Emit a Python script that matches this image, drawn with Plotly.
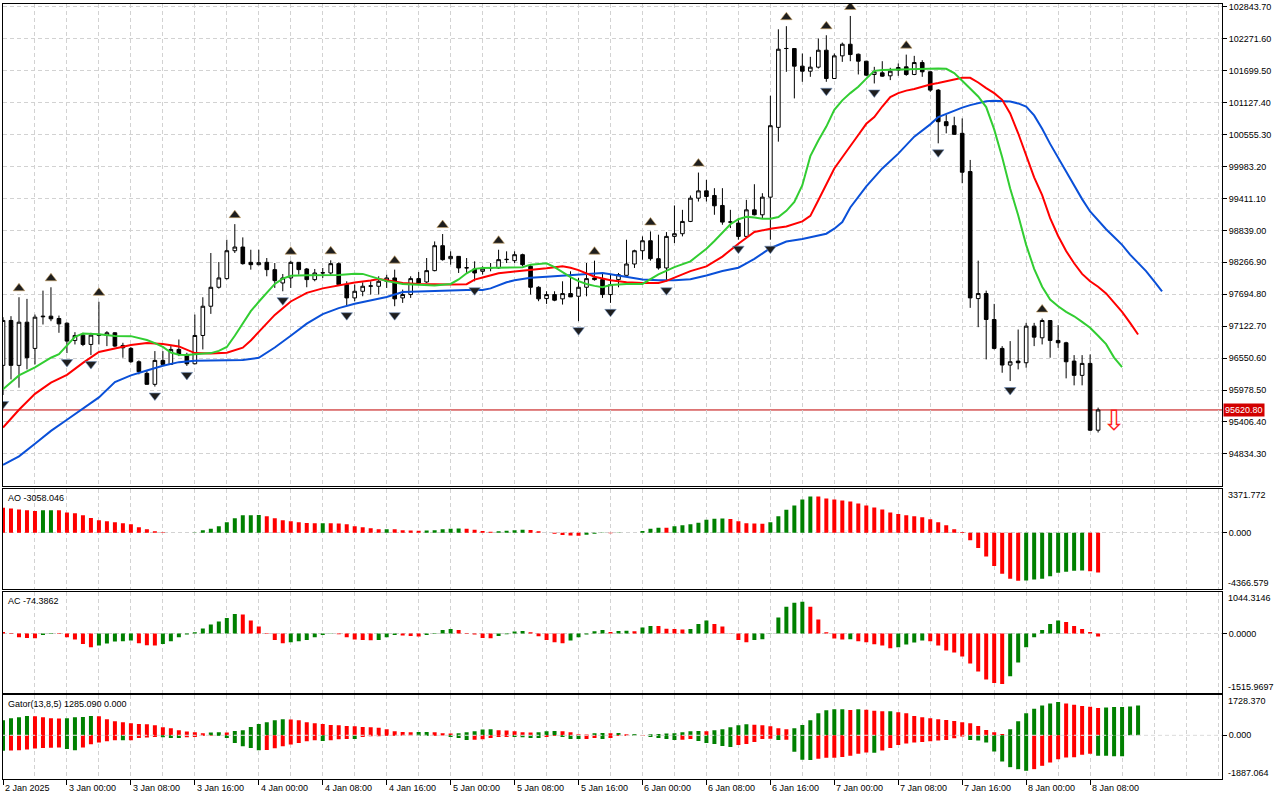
import plotly.graph_objects as go

# ---------------- data ----------------
price_ticks = [102843.70, 102271.60, 101699.50, 101127.40, 100555.30, 99983.20,
               99411.10, 98839.00, 98266.90, 97694.80, 97122.70, 96550.60,
               95978.50, 95406.40, 94834.30]
main_y_range = [94262.2, 102897.3]

time_label_idx = [0, 8, 16, 24, 32, 40, 48, 56, 64, 72, 80, 88, 96, 104, 112, 120, 128, 136]
time_labels = ["2 Jan 2025", "3 Jan 00:00", "3 Jan 08:00", "3 Jan 16:00", "4 Jan 00:00",
               "4 Jan 08:00", "4 Jan 16:00", "5 Jan 00:00", "5 Jan 08:00", "5 Jan 16:00",
               "6 Jan 00:00", "6 Jan 08:00", "6 Jan 16:00", "7 Jan 00:00", "7 Jan 08:00",
               "7 Jan 16:00", "8 Jan 00:00", "8 Jan 08:00"]

opens = [96420, 97225, 96420, 97194, 96724, 97290, 97302, 97260, 97176, 96867,
         96962, 96795, 96956, 96956, 97004, 96777, 96724, 96485, 96277, 96080,
         96509, 96437, 96706, 96616, 96449, 96956, 97480, 97820, 97975, 98475,
         98541, 98267, 98225, 98267, 98136, 97897, 97987, 98267, 98148, 97957,
         98076, 98076, 98243, 97868, 97629, 97748, 97838, 97838, 97927, 97987,
         97629, 97689, 97975, 97915, 98118, 98565, 98332, 98374, 98166, 98148,
         98106, 98166, 98166, 98315, 98297, 98404, 98195, 97820, 97617, 97689,
         97612, 97707, 97659, 97820, 97987, 97957, 97689, 97957, 98034, 98237,
         98475, 98654, 98332, 98166, 98732, 98780, 99000, 99417, 99548, 99465,
         99286, 98988, 98970, 98732, 99208, 99119, 99435, 100686, 102099, 102099,
         101783, 101693, 101765, 102069, 101562, 101968, 102176, 101997, 101872, 101634,
         101664, 101610, 101711, 101771, 101634, 101848, 101682, 101354, 100788, 100716,
         100579, 99894, 97617, 97707, 97242, 96724, 96426, 96497, 96467, 97123,
         96914, 97224, 96867, 96825, 96497, 96241, 96455, 95258]
highs = [97283, 97302, 97641, 97612, 97331, 97760, 97820, 97313, 97190, 97015,
         97004, 97004, 97560, 97033, 97015, 96825, 96747, 96509, 96318, 96676,
         96676, 96765, 96884, 96646, 97331, 97641, 98434, 98273, 98672, 98952,
         98714, 98493, 98493, 98344, 98255, 98058, 98297, 98270, 98166, 98148,
         98166, 98303, 98267, 97927, 97868, 97909, 97927, 98017, 98046, 98136,
         97778, 98017, 98094, 98344, 98642, 98774, 98464, 98380, 98344, 98285,
         98195, 98255, 98493, 98464, 98464, 98422, 98225, 97838, 97748, 97748,
         97927, 98106, 97987, 98255, 98297, 98076, 98046, 98076, 98672, 98493,
         98732, 98821, 98762, 98809, 99286, 99208, 99465, 99876, 99745, 99596,
         99596, 99208, 99059, 99387, 99667, 99506, 101253, 102444, 102500, 102100,
         102009, 101950, 102278, 102337, 102009, 102206, 102683, 102009, 101872, 101771,
         101872, 101753, 101831, 101990, 101968, 101890, 101693, 101372, 100907, 100877,
         100847, 100102, 98297, 97760, 97522, 96765, 96855, 97063, 97182, 97182,
         97260, 97228, 97141, 96843, 96604, 96604, 96616, 95663]
lows = [95889, 96169, 96020, 96348, 96437, 97153, 97212, 97004, 96640, 96795,
        96765, 96604, 96795, 96765, 96747, 96557, 96467, 96259, 96075, 96040,
        96426, 96437, 96586, 96410, 96440, 96706, 97343, 97796, 97957, 98434,
        98225, 98136, 98213, 98017, 97808, 97748, 97808, 98046, 97820, 97927,
        97987, 98046, 97868, 97480, 97570, 97659, 97689, 97689, 97808, 97480,
        97540, 97629, 97880, 97897, 98106, 98297, 98225, 98076, 98076, 97927,
        98046, 98106, 98148, 98255, 98255, 98195, 97689, 97570, 97522, 97570,
        97510, 97647, 97212, 97659, 97939, 97629, 97540, 97820, 98034, 98166,
        98315, 98297, 98136, 97927, 98612, 98732, 98988, 99357, 99357, 99119,
        98940, 98881, 98672, 98702, 99107, 99059, 98672, 100430, 101682, 101205,
        101503, 101592, 101741, 101503, 101555, 101860, 101872, 101634, 101610, 101473,
        101592, 101533, 101610, 101610, 101622, 101592, 101324, 100400, 100579, 100550,
        99685, 97451, 97105, 96527, 96706, 96288, 96139, 96348, 96378, 96765,
        96795, 96557, 96735, 96187, 96062, 96062, 95246, 95216]
closes = [97225, 96420, 97194, 96557, 97284, 97300, 97254, 97164, 96855, 96956,
          96795, 96962, 96974, 97004, 96765, 96735, 96485, 96306, 96080, 96509,
          96437, 96706, 96616, 96449, 96956, 97480, 97820, 97987, 98475, 98541,
          98243, 98225, 98261, 98136, 97939, 97987, 98267, 98136, 97957, 98076,
          98080, 98243, 97868, 97629, 97748, 97838, 97845, 97927, 97987, 97612,
          97689, 97975, 97897, 98118, 98565, 98315, 98374, 98166, 98170, 98076,
          98148, 98170, 98315, 98320, 98404, 98225, 97820, 97612, 97689, 97588,
          97707, 97647, 97820, 97975, 97957, 97689, 97868, 98046, 98237, 98475,
          98654, 98332, 98166, 98732, 98780, 99000, 99417, 99548, 99447, 99280,
          98988, 98990, 98732, 99208, 99119, 99435, 100716, 102087, 102100, 101783,
          101693, 101765, 102069, 101562, 101968, 102176, 101991, 101872, 101622, 101682,
          101604, 101693, 101759, 101634, 101848, 101682, 101354, 100788, 100716, 100561,
          99882, 97629, 97707, 97242, 96724, 96426, 96485, 96467, 97123, 96926,
          97224, 96867, 96825, 96485, 96241, 96455, 95258, 95620.8]

# Alligator (shifted lines as drawn)
jaw_idx = [0, 2, 4, 6, 8, 10, 12, 14, 16, 18, 20, 22, 24, 26, 28, 30, 32, 34, 36, 38,
           40, 42, 44, 46, 48, 50, 52, 54, 56, 58, 60, 61, 62, 63, 64, 66, 68, 70, 72, 74,
           75, 76, 78, 80, 82, 84, 86, 88, 90, 92, 93, 94, 96, 98, 100, 102, 103, 104, 105, 106,
           108, 110, 112, 114, 116, 117, 118, 119, 120, 121, 122, 123, 124, 125, 126, 127, 128, 129, 130, 131,
           132, 133, 134, 135, 136, 137, 138, 139, 140, 141, 142, 143, 144, 145]
jaw_vals = [94638, 94790, 95016, 95246, 95445, 95646, 95846, 96121, 96241, 96327,
            96412, 96478, 96505, 96509, 96509, 96515, 96555, 96740, 96950, 97168,
            97340, 97446, 97524, 97582, 97645, 97735, 97740, 97750, 97760, 97772,
            97772, 97800, 97850, 97910, 97945, 97990, 98008, 98028, 98050, 98070,
            98076, 98055, 98008, 97960, 97945, 97945, 97965, 98030, 98110, 98170,
            98250, 98330, 98520, 98640, 98685, 98740, 98780, 98870, 98990, 99250,
            99630, 99950, 100215, 100520, 100740, 100870, 100930, 100990, 101040, 101085,
            101125, 101155, 101163, 101163, 101150, 101115, 101060, 100900, 100660, 100390,
            100140, 99890, 99640, 99400, 99179, 99010, 98860, 98720, 98580, 98404,
            98260, 98110, 97930, 97748]

teeth_idx = [0, 2, 4, 6, 8, 10, 12, 14, 16, 18, 20, 22, 24, 26, 28, 30, 31, 32, 34, 36,
             38, 40, 42, 44, 46, 47, 48, 50, 52, 54, 56, 58, 59, 60, 62, 64, 66, 68, 70, 71,
             72, 74, 76, 78, 80, 82, 83, 84, 86, 88, 90, 92, 94, 96, 98, 100, 101, 102, 103, 104,
             105, 106, 107, 108, 109, 110, 111, 112, 113, 114, 115, 116, 117, 118, 119, 120, 121, 122, 123, 124,
             125, 126, 127, 128, 129, 130, 131, 132, 133, 134, 135, 136, 137, 138, 139, 140, 141, 142]
teeth_vals = [95305, 95625, 95910, 96110, 96250, 96464, 96660, 96727, 96785, 96820,
              96805, 96760, 96640, 96634, 96646, 96738, 96865, 97020, 97325, 97565,
              97720, 97800, 97855, 97905, 97940, 97969, 97945, 97895, 97880, 97868,
              97868, 97875, 97957, 97994, 98070, 98103, 98125, 98160, 98195, 98170,
              98128, 98010, 97945, 97910, 97897, 97897, 97935, 97990, 98110, 98195,
              98370, 98600, 98810, 98869, 98910, 99000, 99100, 99380, 99680, 99950,
              100150, 100360, 100550, 100750, 100870, 101060, 101230, 101300, 101345, 101375,
              101415, 101455, 101480, 101510, 101550, 101574, 101574, 101490, 101390, 101300,
              101180, 100937, 100580, 100180, 99790, 99470, 99059, 98740, 98470, 98250,
              98060, 97927, 97830, 97710, 97550, 97380, 97182, 96974]

lips_idx = [0, 2, 4, 6, 7, 8, 9, 10, 12, 14, 16, 18, 19, 20, 21, 22, 23, 24, 26, 27,
            28, 29, 30, 31, 32, 33, 34, 35, 36, 38, 40, 42, 44, 45, 46, 48, 50, 52, 54, 56,
            57, 58, 59, 60, 62, 64, 65, 66, 68, 69, 70, 71, 72, 73, 74, 75, 76, 78, 80, 81,
            82, 84, 86, 87, 88, 89, 90, 91, 92, 93, 94, 95, 96, 97, 98, 99, 100, 101, 102, 103,
            104, 105, 106, 107, 108, 109, 110, 112, 114, 116, 117, 118, 119, 120, 121, 122, 123, 124, 125, 126,
            127, 128, 129, 130, 131, 132, 133, 134, 135, 136, 137, 138, 139, 140]
lips_vals = [95990, 96240, 96385, 96557, 96620, 96780, 96930, 96990, 96976, 96948,
             96944, 96875, 96820, 96750, 96650, 96610, 96604, 96618, 96640, 96680,
             96750, 96950, 97170, 97391, 97560, 97730, 97880, 97975, 98025, 98034,
             98034, 98040, 98062, 98060, 98015, 97930, 97880, 97866, 97850, 97880,
             97960, 98070, 98150, 98166, 98166, 98170, 98178, 98225, 98250, 98180,
             98090, 98000, 97930, 97880, 97845, 97820, 97860, 97880, 97880, 97960,
             98050, 98180, 98285, 98400, 98510, 98650, 98800, 98950, 99040, 99085,
             99070, 99050, 99047, 99080, 99190, 99350, 99650, 100170, 100450, 100700,
             101000, 101170, 101300, 101413, 101560, 101699, 101715, 101725, 101735, 101741,
             101741, 101735, 101660, 101520, 101380, 101240, 101050, 100650, 100150, 99590,
             99110, 98580, 98150, 97830, 97600, 97480, 97380, 97300, 97200, 97093,
             96950, 96800, 96560, 96390]

fractal_up_idx = [2, 6, 12, 29, 36, 41, 49, 55, 62, 74, 81, 87, 98, 103, 106, 113, 130]
fractal_down_idx = [0, 8, 11, 19, 23, 35, 43, 49, 59, 72, 76, 83, 92, 96, 103, 109, 117, 126]

sell_signal_idx = [139]
sell_signal_price = [95385]

ao = [1915, 1864, 1787, 1711, 1660, 1711, 1723, 1711, 1557, 1481,
      1328, 1123, 945, 868, 791, 715, 638, 408, 255, 102,
      25, -10, -5, 0, 20, 179, 306, 485, 791, 1098,
      1328, 1340, 1353, 1251, 1098, 945, 868, 791, 740, 715,
      728, 715, 702, 638, 485, 408, 332, 255, 268, 255,
      179, 166, 153, 160, 179, 255, 306, 310, 300, 230,
      128, 77, 100, 153, 179, 230, 204, 100, 0, -77,
      -179, -220, -235, -153, -77, -30, -50, -25, -10, 0,
      128, 306, 383, 375, 485, 562, 638, 766, 996, 1072,
      1085, 1047, 868, 715, 702, 689, 791, 1251, 1762, 2093,
      2553, 2783, 2770, 2630, 2553, 2476, 2400, 2247, 2093, 1940,
      1787, 1557, 1430, 1328, 1251, 1174, 1021, 791, 562, 255,
      51, -587, -1174, -1838, -2553, -3166, -3549, -3702, -3676, -3600,
      -3549, -3344, -3089, -3013, -2936, -2910, -2961, -3058.046]
ao_range = [-4366.579, 3371.772]

ac = [40, -8, -93, -110, -118, -34, 17, -8, -93, -152,
      -262, -346, -304, -253, -203, -194, -177, -245, -296, -300,
      -262, -194, -93, -25, 34, 127, 228, 304, 397, 499,
      482, 330, 177, -8, -161, -245, -220, -194, -161, -93,
      -34, -5, -20, -93, -152, -161, -169, -161, -93, -34,
      -51, -59, -76, -34, 17, 93, 118, 93, 17, -25,
      -110, -118, -59, -17, 51, 68, 34, -68, -161, -220,
      -245, -177, -93, -25, 59, 93, 42, 68, 70, 59,
      152, 194, 190, 125, 118, 101, 118, 245, 330, 245,
      177, 8, -161, -220, -161, -144, 8, 406, 684, 786,
      811, 684, 355, 34, -127, -152, -144, -194, -220, -270,
      -304, -372, -346, -279, -228, -177, -194, -304, -431, -482,
      -583, -760, -963, -1166, -1259, -1284, -1082, -735, -346, -93,
      93, 245, 330, 296, 194, 118, 42, -74.3862]
ac_range = [-1515.9697, 1044.3146]

gator_up = [645, 731, 774, 831, 817, 774, 731, 724, 731, 774,
            788, 831, 824, 688, 602, 559, 516, 487, 473, 430,
            344, 301, 215, 158, 129, 86, 115, 129, 115, 186,
            215, 358, 487, 559, 645, 688, 681, 645, 559, 516,
            487, 444, 430, 401, 387, 358, 344, 330, 258, 172,
            143, 129, 136, 143, 129, 86, 72, 86, 129, 172,
            244, 258, 215, 201, 172, 129, 115, 129, 172, 186,
            172, 129, 43, 36, 86, 93, 86, 93, 43, 57,
            14, 43, 57, 72, 86, 129, 172, 186, 172, 215,
            258, 344, 430, 473, 458, 430, 387, 301, 258, 301,
            444, 645, 946, 1075, 1118, 1125, 1089, 1118, 1103, 1060,
            1032, 1039, 989, 946, 831, 774, 731, 688, 659, 616,
            559, 516, 401, 229, 129, 57, 258, 602, 946, 1146,
            1290, 1376, 1433, 1376, 1318, 1261, 1232, 1180, 1200, 1215,
            1225, 1240, 1285.09]
gator_down = [-673, -660, -645, -616, -573, -544, -540, -530, -590, -645,
              -530, -387, -315, -258, -215, -220, -210, -115, -100, -72,
              -86, -115, -120, -86, -72, -30, -25, -30, -115, -330,
              -473, -544, -645, -640, -559, -473, -401, -330, -258, -215,
              -245, -215, -172, -158, -165, -72, -43, -40, -30, -28,
              -25, -22, -30, -35, -30, -10, -72, -115, -200, -195,
              -172, -115, -72, -70, -75, -80, -115, -120, -72, -30,
              -72, -158, -165, -160, -115, -158, -115, -30, -28, -32,
              -28, -72, -115, -158, -200, -195, -158, -244, -330, -373,
              -458, -502, -416, -373, -287, -158, -155, -200, -195, -716,
              -1060, -1065, -1017, -975, -970, -940, -888, -802, -745, -750,
              -659, -545, -416, -358, -315, -287, -258, -229, -200, -129,
              -57, -200, -229, -315, -702, -1132, -1376, -1462, -1533, -1462,
              -1318, -1175, -1032, -960, -946, -845, -802, -880, -885, -900,
              -910]
gator_range = [-1887.064, 1728.370]

# ---------------- styling ----------------
W, H = 1280, 800
M_L, M_R, M_T, M_B = 2, 58, 2, 21
PLOT_H = H - M_T - M_B
X_RANGE = [0, 152.5]
GREEN = "#008000"
RED = "#ff0000"
GRID = "#d2d2d2"
GRID_DASH = "4px,3px"
FONT = "Liberation Sans"
FS = 9


def dom(top_px, bottom_px):
    base = H - M_B
    return [(base - bottom_px) / PLOT_H, (base - top_px) / PLOT_H]


def up_down_colors(vals, first, mag=False):
    cols = [first]
    for i in range(1, len(vals)):
        a, b = vals[i], vals[i - 1]
        if mag:
            a, b = abs(a), abs(b)
        cols.append(GREEN if a > b else RED)
    return cols


n = len(opens)
bars = list(range(n))
price_per_px = (main_y_range[1] - main_y_range[0]) / (485 - 2)
frac_gap = 9 * price_per_px

fig = go.Figure()

fig.add_trace(go.Candlestick(
    x=bars, open=opens, high=highs, low=lows, close=closes,
    increasing=dict(line=dict(color="black", width=1), fillcolor="white"),
    decreasing=dict(line=dict(color="black", width=1), fillcolor="black"),
    whiskerwidth=0, xaxis="x", yaxis="y", hoverinfo="skip", showlegend=False))

for xs, ys, col in [(jaw_idx, jaw_vals, "#0a50d8"),
                    (teeth_idx, teeth_vals, "#ff0000"),
                    (lips_idx, lips_vals, "#32cd32")]:
    fig.add_trace(go.Scatter(x=xs, y=ys, mode="lines", line=dict(color=col, width=2),
                             xaxis="x", yaxis="y", hoverinfo="skip", showlegend=False))

fig.add_trace(go.Scatter(
    x=fractal_up_idx, y=[highs[i] + frac_gap for i in fractal_up_idx], mode="markers",
    marker=dict(symbol="triangle-up", size=10, color="#1e1e1e",
                line=dict(color="#c8a060", width=0.6)),
    xaxis="x", yaxis="y", hoverinfo="skip", showlegend=False))
fig.add_trace(go.Scatter(
    x=fractal_down_idx, y=[lows[i] - frac_gap for i in fractal_down_idx], mode="markers",
    marker=dict(symbol="triangle-down", size=10, color="#1e1e1e",
                line=dict(color="#7090c0", width=0.6)),
    xaxis="x", yaxis="y", hoverinfo="skip", showlegend=False))

fig.add_trace(go.Scatter(
    x=sell_signal_idx, y=sell_signal_price, mode="text", text=["\u21e9"],
    textfont=dict(family="DejaVu Sans", size=28, color="#ff2020"),
    xaxis="x", yaxis="y", hoverinfo="skip", showlegend=False))

fig.add_trace(go.Bar(x=bars, y=ao, marker=dict(color=up_down_colors(ao, RED), line=dict(width=0)),
                     width=0.5, xaxis="x2", yaxis="y2", hoverinfo="skip", showlegend=False))
fig.add_trace(go.Bar(x=bars, y=ac, marker=dict(color=up_down_colors(ac, RED), line=dict(width=0)),
                     width=0.5, xaxis="x3", yaxis="y3", hoverinfo="skip", showlegend=False))
fig.add_trace(go.Bar(x=list(range(len(gator_up))), y=gator_up,
                     marker=dict(color=up_down_colors(gator_up, GREEN), line=dict(width=0)),
                     width=0.5, xaxis="x4", yaxis="y4", hoverinfo="skip", showlegend=False))
fig.add_trace(go.Bar(x=list(range(len(gator_down))), y=gator_down,
                     marker=dict(color=up_down_colors(gator_down, GREEN, mag=True), line=dict(width=0)),
                     width=0.5, xaxis="x4", yaxis="y4", hoverinfo="skip", showlegend=False))

tick_font = dict(family=FONT, size=FS, color="black")


def xaxis_cfg(anchor, bottom=False):
    cfg = dict(anchor=anchor, domain=[0, 1], range=X_RANGE, tickmode="array",
               tickvals=time_label_idx, showticklabels=False,
               ticks="outside" if bottom else "", ticklen=5, tickcolor="black",
               showgrid=True, gridcolor=GRID, griddash=GRID_DASH, gridwidth=1,
               minor=dict(dtick=4, tick0=0, showgrid=True, gridcolor=GRID,
                          griddash=GRID_DASH, gridwidth=1, ticks=""),
               showline=True, mirror=True, linecolor="black", linewidth=1,
               zeroline=False, fixedrange=True)
    if anchor != "y":
        cfg["matches"] = "x"
    return cfg


def sub_y(domain, rng, zero_txt):
    return dict(domain=domain, range=rng, side="right", anchor="x",
                tickmode="array", tickvals=[0], ticktext=[zero_txt],
                ticks="outside", ticklen=4, tickcolor="black", tickfont=tick_font,
                showgrid=True, gridcolor=GRID, griddash=GRID_DASH,
                showline=True, mirror=True, linecolor="black", linewidth=1,
                zeroline=False, fixedrange=True)


xa = xaxis_cfg("y")
xa["rangeslider"] = dict(visible=False)

ya = dict(domain=dom(2, 485), range=main_y_range, side="right", anchor="x",
          tickmode="array", tickvals=price_ticks, ticktext=[f"{v:.2f}" for v in price_ticks],
          ticks="outside", ticklen=4, tickcolor="black", tickfont=tick_font,
          showgrid=True, gridcolor=GRID, griddash=GRID_DASH,
          showline=True, mirror=True, linecolor="black", linewidth=1,
          zeroline=False, fixedrange=True)

ya2 = sub_y(dom(488, 589), ao_range, "0.000")
ya2["anchor"] = "x2"
ya3 = sub_y(dom(592, 693), ac_range, "0.0000")
ya3["anchor"] = "x3"
ya4 = sub_y(dom(695, 779), gator_range, "0.000")
ya4["anchor"] = "x4"

annotations = []
# time labels
for k, t in zip(time_label_idx, time_labels):
    annotations.append(dict(x=k, xref="x4", y=-9 / PLOT_H, yref="paper", text=t,
                            showarrow=False, xanchor="left", yanchor="middle", xshift=0,
                            font=tick_font))
# pane titles
for yref, txt in [("y2 domain", f"AO {ao[-1]:.3f}"), ("y3 domain", f"AC {ac[-1]:.4f}"),
                  ("y4 domain", f"Gator(13,8,5) {gator_up[-1]:.3f} 0.000")]:
    annotations.append(dict(x=0, xref="paper", y=1, yref=yref, text=txt, showarrow=False,
                            xanchor="left", yanchor="top", xshift=3, yshift=-2, font=tick_font))
# sub-pane edge labels
for yref, top_txt, bot_txt in [("y2 domain", f"{ao_range[1]:.3f}", f"{ao_range[0]:.3f}"),
                               ("y3 domain", f"{ac_range[1]:.4f}", f"{ac_range[0]:.4f}"),
                               ("y4 domain", f"{gator_range[1]:.3f}", f"{gator_range[0]:.3f}")]:
    annotations.append(dict(x=1, xref="paper", y=1, yref=yref, text=top_txt, showarrow=False,
                            xanchor="left", yanchor="top", xshift=4, yshift=1, font=tick_font))
    annotations.append(dict(x=1, xref="paper", y=0, yref=yref, text=bot_txt, showarrow=False,
                            xanchor="left", yanchor="bottom", xshift=4, yshift=-1, font=tick_font))
# current price box
annotations.append(dict(x=1, xref="paper", y=closes[-1], yref="y", text=f"{closes[-1]:.2f}",
                        showarrow=False, xanchor="left", yanchor="middle", xshift=1,
                        bgcolor="#d20000", borderpad=1,
                        font=dict(family=FONT, size=FS, color="white")))

shapes = [
    dict(type="line", xref="paper", x0=0, x1=1, yref="y", y0=closes[-1], y1=closes[-1],
         line=dict(color="#c00000", width=1), layer="below"),
    dict(type="line", xref="paper", x0=0, x1=1, yref="y4", y0=0, y1=0,
         line=dict(color="#e6e6e6", width=1, dash=GRID_DASH), layer="above"),
]

fig.update_layout(
    width=W, height=H, margin=dict(l=M_L, r=M_R, t=M_T, b=M_B, pad=0),
    paper_bgcolor="white", plot_bgcolor="white",
    barmode="overlay", boxgap=0.35,
    xaxis=xa, xaxis2=xaxis_cfg("y2"), xaxis3=xaxis_cfg("y3"), xaxis4=xaxis_cfg("y4", bottom=True),
    yaxis=ya, yaxis2=ya2, yaxis3=ya3, yaxis4=ya4,
    annotations=annotations, shapes=shapes, showlegend=False,
    font=dict(family=FONT, size=FS, color="black"),
)

fig.write_html("out.html", config={"staticPlot": True},
               post_script="document.body.style.margin='0';document.body.style.overflow='hidden';")
